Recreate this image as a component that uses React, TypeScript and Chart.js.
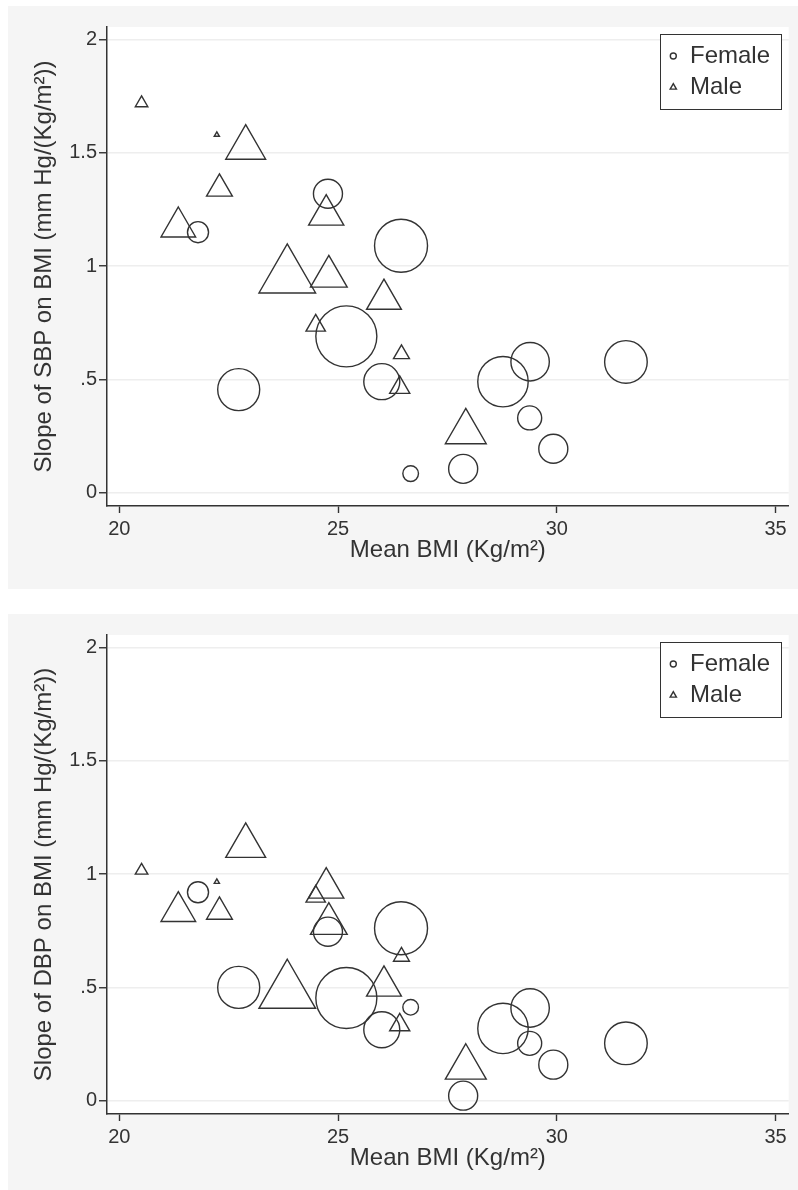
import React, { useEffect, useRef } from 'react';
import { Chart, registerables } from 'chart.js';

Chart.register(...registerables);

// ---- Data ----
const femaleBMI = [21.8, 22.73, 24.77, 25.19, 26.0, 26.44, 26.66, 27.86, 28.77, 29.38, 29.39, 29.92, 31.58];
const femaleSBP = [1.15, 0.455, 1.32, 0.69, 0.49, 1.09, 0.084, 0.105, 0.49, 0.33, 0.578, 0.194, 0.577];
const femaleDBP = [0.92, 0.5, 0.746, 0.453, 0.313, 0.761, 0.412, 0.022, 0.319, 0.253, 0.409, 0.159, 0.253];
const femaleWeight = [12.3, 49, 23.4, 103.4, 36, 78, 6.8, 23.4, 70.6, 16, 41, 23.4, 50.4];

const maleBMI = [20.51, 21.35, 22.23, 22.29, 22.89, 23.84, 24.49, 24.73, 24.79, 26.05, 26.45, 26.41, 27.92];
const maleSBP = [1.72, 1.173, 1.58, 1.342, 1.523, 0.954, 0.738, 1.226, 0.954, 0.854, 0.612, 0.464, 0.268];
const maleDBP = [1.016, 0.835, 0.966, 0.834, 1.125, 0.48, 0.901, 0.939, 0.781, 0.506, 0.636, 0.334, 0.147];
const maleWeight = [5.8, 44.4, 1.0, 24.7, 58.8, 118.8, 13.9, 45.8, 49.9, 44.9, 9.4, 15.0, 61.9];

const xTicks = [20, 25, 30, 35];
const xTickLabels = ['20', '25', '30', '35'];
const yTicks = [0, 0.5, 1, 1.5, 2];
const yTickLabels = ['0', '.5', '1', '1.5', '2'];

const seriesLabels = ['Female', 'Male'];
const xTitle = 'Mean BMI (Kg/m²)';
const sbpTitle = 'Slope of SBP on BMI (mm Hg/(Kg/m²))';
const dbpTitle = 'Slope of DBP on BMI (mm Hg/(Kg/m²))';

// ---- Styling ----
const INK = '#333333';
const PANEL_BG = 'rgb(245,245,245)';
const GRID = 'rgb(238,238,238)';
const FONT = '"Liberation Sans", Arial, Helvetica, sans-serif';
const W = 790;
const H = 583;
const sizeFromWeight = (w: number) => 3 * Math.sqrt(w);

const zeroPad = (s: any) => {
  s.paddingTop = 0;
  s.paddingBottom = 0;
  s.paddingLeft = 0;
  s.paddingRight = 0;
};

const plotBg = {
  id: 'plotBg',
  beforeDraw(chart: any) {
    const { ctx, chartArea } = chart;
    ctx.save();
    ctx.fillStyle = '#ffffff';
    ctx.fillRect(chartArea.left, chartArea.top, chartArea.right - chartArea.left, chartArea.bottom - chartArea.top);
    ctx.restore();
  },
};

const legendBox = {
  id: 'legendBox',
  afterDraw(chart: any) {
    const { ctx, chartArea } = chart;
    const bw = 121;
    const bh = 75;
    const x0 = Math.round(chartArea.right - 7.5 - bw);
    const y0 = Math.round(chartArea.top + 7);
    ctx.save();
    ctx.fillStyle = '#ffffff';
    ctx.fillRect(x0, y0, bw, bh);
    ctx.strokeStyle = INK;
    ctx.lineWidth = 1;
    ctx.strokeRect(x0 + 0.5, y0 + 0.5, bw, bh);
    chart.data.datasets.forEach((ds: any, i: number) => {
      const cy = y0 + 22 + i * 31.3;
      const cx = x0 + 13.3;
      ctx.beginPath();
      ctx.lineWidth = 1.4;
      ctx.strokeStyle = INK;
      if (ds.pointStyle === 'circle') {
        ctx.arc(cx, cy, 3, 0, Math.PI * 2);
      } else {
        const r = 3.6;
        ctx.moveTo(cx, cy - r);
        ctx.lineTo(cx + r * 0.866, cy + r / 2);
        ctx.lineTo(cx - r * 0.866, cy + r / 2);
        ctx.closePath();
      }
      ctx.stroke();
      ctx.fillStyle = INK;
      ctx.font = `24px ${FONT}`;
      ctx.textBaseline = 'middle';
      ctx.textAlign = 'left';
      ctx.fillText(ds.label, x0 + 30, cy);
    });
    ctx.restore();
  },
};

function buildConfig(yTitle: string, femaleY: number[], maleY: number[]): any {
  return {
    type: 'scatter',
    data: {
      datasets: [
        {
          label: seriesLabels[0],
          data: femaleBMI.map((x, i) => ({ x, y: femaleY[i] })),
          pointStyle: 'circle',
          pointRadius: femaleWeight.map(sizeFromWeight),
          backgroundColor: 'rgba(0,0,0,0)',
          borderColor: INK,
          borderWidth: 1.4,
          clip: false,
        },
        {
          label: seriesLabels[1],
          data: maleBMI.map((x, i) => ({ x, y: maleY[i] })),
          pointStyle: 'triangle',
          pointRadius: maleWeight.map(sizeFromWeight),
          backgroundColor: 'rgba(0,0,0,0)',
          borderColor: INK,
          borderWidth: 1.4,
          clip: false,
        },
      ],
    },
    options: {
      responsive: false,
      animation: false,
      events: [],
      layout: { autoPadding: false, padding: { top: 21, right: 9.3, left: 0, bottom: 0 } },
      plugins: { legend: { display: false }, tooltip: { enabled: false } },
      scales: {
        x: {
          type: 'linear',
          min: 19.72,
          max: 35.3,
          afterBuildTicks: (s: any) => {
            s.ticks = xTicks.map((v) => ({ value: v }));
          },
          afterFit: (s: any) => {
            s.height = 83;
            zeroPad(s);
          },
          grid: {
            drawOnChartArea: false,
            drawTicks: true,
            tickLength: 7,
            tickColor: INK,
            tickWidth: 1.4,
          },
          border: { display: true, color: INK, width: 1.5 },
          ticks: {
            font: { family: FONT, size: 20 },
            color: INK,
            padding: 4,
            maxRotation: 0,
            autoSkip: false,
            callback: (_v: any, i: number) => xTickLabels[i],
          },
          title: {
            display: true,
            text: xTitle,
            font: { family: FONT, size: 24 },
            color: INK,
            padding: { top: 0, bottom: 24 },
          },
        },
        y: {
          type: 'linear',
          min: -0.059,
          max: 2.056,
          afterBuildTicks: (s: any) => {
            s.ticks = yTicks.map((v) => ({ value: v }));
          },
          afterFit: (s: any) => {
            s.width = 99;
            zeroPad(s);
          },
          grid: {
            drawOnChartArea: true,
            color: GRID,
            lineWidth: 1.5,
            drawTicks: true,
            tickLength: 8,
            tickColor: INK,
            tickWidth: 1.4,
          },
          border: { display: true, color: INK, width: 1.5 },
          ticks: {
            font: { family: FONT, size: 20 },
            color: INK,
            padding: 2,
            autoSkip: false,
            callback: (_v: any, i: number) => yTickLabels[i],
          },
          title: {
            display: true,
            text: yTitle,
            font: { family: FONT, size: 24 },
            color: INK,
            padding: { top: 22, bottom: 0 },
          },
        },
      },
    },
    plugins: [plotBg, legendBox],
  };
}

function Panel({ top, yTitle, femaleY, maleY }: { top: number; yTitle: string; femaleY: number[]; maleY: number[] }) {
  const ref = useRef<HTMLCanvasElement | null>(null);
  useEffect(() => {
    if (!ref.current) return;
    const chart = new Chart(ref.current, buildConfig(yTitle, femaleY, maleY));
    return () => chart.destroy();
  }, [yTitle, femaleY, maleY]);
  return (
    <div style={{ position: 'absolute', left: 8, top, width: W, height: H, background: PANEL_BG }}>
      <canvas ref={ref} width={W} height={H} style={{ display: 'block', width: W, height: H }} />
    </div>
  );
}

export default function App() {
  return (
    <div style={{ position: 'fixed', left: 0, top: 0, width: 798, height: 1190, overflow: 'hidden', background: '#ffffff' }}>
      <Panel top={6} yTitle={sbpTitle} femaleY={femaleSBP} maleY={maleSBP} />
      <Panel top={614} yTitle={dbpTitle} femaleY={femaleDBP} maleY={maleDBP} />
    </div>
  );
}
